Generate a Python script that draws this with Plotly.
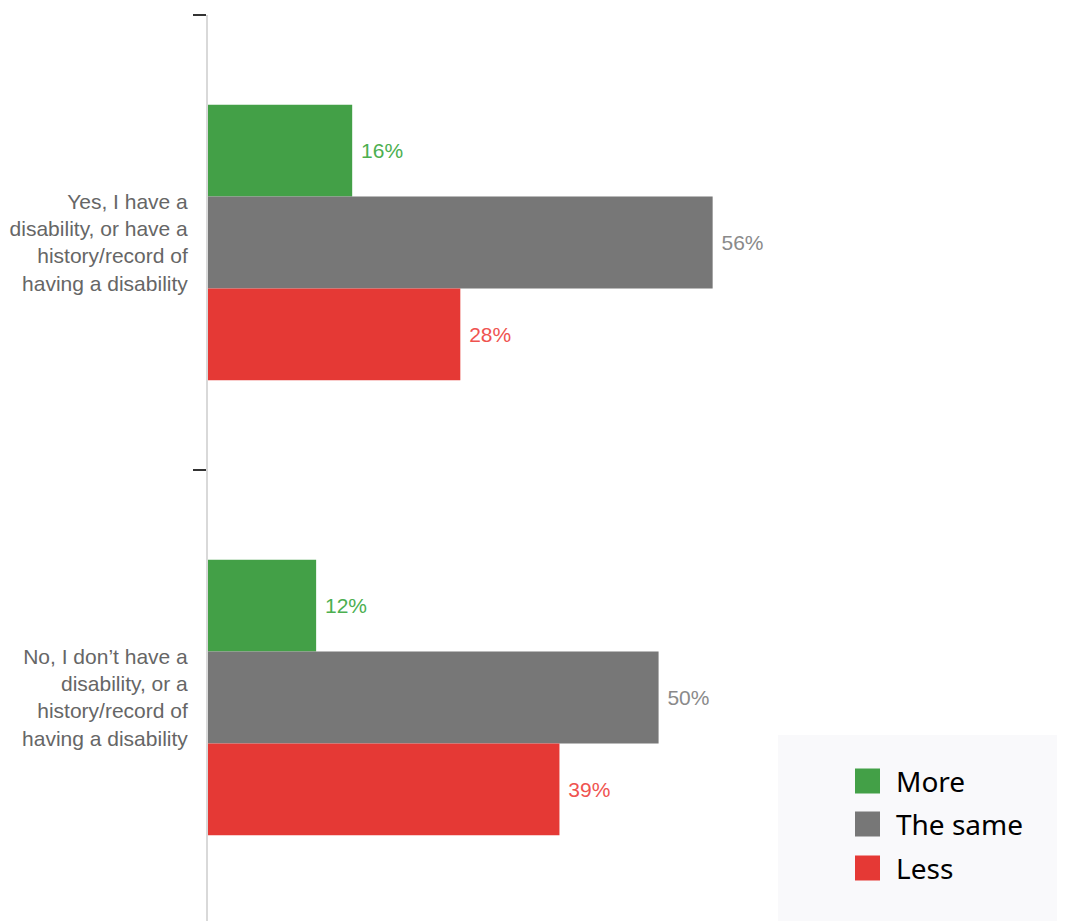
import plotly.graph_objects as go

categories = [
    "Yes, I have a<br>disability, or have a<br>history/record of<br>having a disability",
    "No, I don\u2019t have a<br>disability, or a<br>history/record of<br>having a disability",
]
series_names = ["More", "The same", "Less"]
more = [16, 12]
same = [56, 50]
less = [28, 39]
bar_colors = ["#43a047", "#777777", "#e53935"]
label_colors = ["#4caf50", "#8a8a8a", "#ef5350"]

# page body has an 8px margin; work in screen coordinates and convert
OFF = 8
W, H = 1065 - OFF, 921 - OFF
AXIS_X, TOP_Y = 208, 15
ML, MR, MT, MB = AXIS_X - OFF, 0, TOP_Y - OFF, 0
plot_w = W - ML - MR
plot_h = H - MT - MB

fig = go.Figure()
for name, vals, bc, lc in zip(series_names, [more, same, less], bar_colors, label_colors):
    fig.add_trace(go.Bar(
        y=categories, x=vals, orientation="h", name=name,
        marker=dict(color=bc, line=dict(width=0)),
        texttemplate="\u00a0%{x}%", textposition="outside",
        textfont=dict(family="Liberation Sans, Arial, sans-serif", size=21, color=lc),
        cliponaxis=False, hoverinfo="skip", showlegend=False,
    ))

cat_px = 455.0
y_bottom = -0.5 + plot_h / cat_px

fig.update_layout(
    width=W, height=H,
    margin=dict(l=ML, r=MR, t=MT, b=MB, pad=0),
    paper_bgcolor="white", plot_bgcolor="white",
    barmode="group", bargap=0.395, bargroupgap=0,
    showlegend=False,
    xaxis=dict(range=[0, 95.1 * (plot_w / 857.0)], visible=False, fixedrange=True),
    yaxis=dict(
        range=[y_bottom, -0.5], type="category",
        showline=True, linecolor="#d9d9d9", linewidth=2,
        ticks="outside", tickson="boundaries", ticklen=13, tickwidth=2, tickcolor="#333333",
        ticklabelstandoff=14,
        tickfont=dict(family="Liberation Sans, Arial, sans-serif", size=21, color="#666666"),
        showgrid=False, zeroline=False, fixedrange=True,
    ),
)

# Custom legend (large swatches), positions given in screen pixels
def px_x(x):
    return (x - OFF - ML) / plot_w

def px_y(y):
    return (H - MB - (y - OFF)) / plot_h

fig.add_shape(type="rect", xref="paper", yref="paper",
              x0=px_x(778), x1=px_x(1065), y0=px_y(921), y1=px_y(735),
              fillcolor="#f9f9fb", line=dict(width=0), layer="below")
centers = [781, 824, 868]
for name, bc, cy in zip(series_names, bar_colors, centers):
    fig.add_shape(type="rect", xref="paper", yref="paper",
                  x0=px_x(855), x1=px_x(880), y0=px_y(cy + 12.5), y1=px_y(cy - 12.5),
                  fillcolor=bc, line=dict(width=0))
    fig.add_annotation(xref="paper", yref="paper", x=px_x(894), y=px_y(cy),
                       xanchor="left", yanchor="middle", text=name, showarrow=False,
                       font=dict(family="Noto Sans, Open Sans, sans-serif", size=28, color="#000000"))

fig.write_html("out.html")
